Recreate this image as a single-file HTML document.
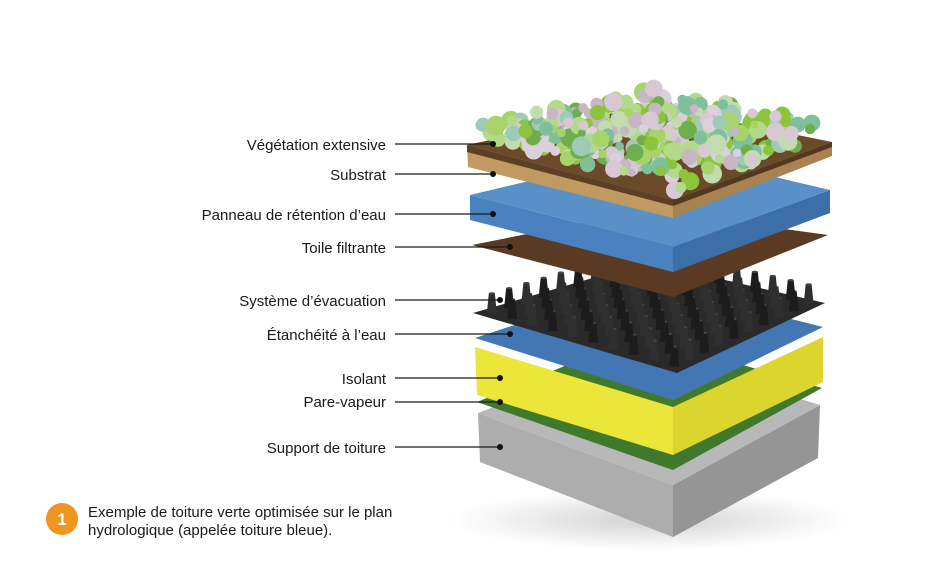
<!DOCTYPE html>
<html><head><meta charset="utf-8"><style>
body{margin:0;background:#fff;width:933px;height:557px;overflow:hidden;font-family:"Liberation Sans",Arial,sans-serif}
</style></head><body>
<svg id="s" width="933" height="557" viewBox="0 0 933 557" xmlns="http://www.w3.org/2000/svg">
<defs>
<radialGradient id="sh" cx="0.5" cy="0.5" r="0.5"><stop offset="0" stop-color="#000" stop-opacity="0.18"/><stop offset="1" stop-color="#000" stop-opacity="0"/></radialGradient>
</defs>
<ellipse cx="650" cy="520" rx="200" ry="30" fill="url(#sh)"/>
<polygon points="478,413 673,485 673,537 480,462" fill="#adadad"/>
<polygon points="673,485 820,405 818,458 673,537" fill="#959595"/>
<polygon points="478,413 640,350 820,405 673,485" fill="#b8b8b8"/>
<polygon points="477,402 640,335 822,388 673,470" fill="#3f7a2c"/>
<polygon points="475,347 673,407 673,455 477,395" fill="#ece63a"/>
<polygon points="673,407 823,337 823,382 673,455" fill="#dcd52e"/>
<polygon points="475,338 645,282 823,327 673,400" fill="#4277b4"/>
<polygon points="473,313 647,262 825,303 677,373" fill="#2a2a2a"/>
<g id="cones"></g>
<polygon points="472,245 647,210 828,235 673,297" fill="#5a3a22"/>
<polygon points="470,195 673,247 673,272 470,220" fill="#4a82c0"/>
<polygon points="673,247 830,190 830,213 673,272" fill="#3c6fa8"/>
<polygon points="470,195 660,150 830,190 673,247" fill="#5a90c8"/>
<polygon points="467,145 673,200 673,218 468,167" fill="#c09a60"/>
<polygon points="467,145 673,200 673,206 467,152" fill="#5e3f24"/>
<polygon points="673,200 832,142 832,156 673,218" fill="#a88250"/>
<polygon points="673,200 832,142 832,147 673,206" fill="#533820"/>
<polygon points="467,145 650,105 832,142 673,200" fill="#6b4a2a"/>
<g id="plants"></g>
<g font-size="15" fill="#1a1a1a" text-anchor="end">
<text x="386" y="150">Végétation extensive</text>
<text x="386" y="180">Substrat</text>
<text x="386" y="220">Panneau de rétention d’eau</text>
<text x="386" y="253">Toile filtrante</text>
<text x="386" y="306">Système d’évacuation</text>
<text x="386" y="340">Étanchéité à l’eau</text>
<text x="386" y="384">Isolant</text>
<text x="386" y="407">Pare-vapeur</text>
<text x="386" y="453">Support de toiture</text>
</g>
<g stroke="#1a1a1a" stroke-width="1.2">
<line x1="395" y1="144" x2="493" y2="144"/>
<line x1="395" y1="174" x2="493" y2="174"/>
<line x1="395" y1="214" x2="493" y2="214"/>
<line x1="395" y1="247" x2="510" y2="247"/>
<line x1="395" y1="300" x2="500" y2="300"/>
<line x1="395" y1="334" x2="510" y2="334"/>
<line x1="395" y1="378" x2="500" y2="378"/>
<line x1="395" y1="402" x2="500" y2="402"/>
<line x1="395" y1="447" x2="500" y2="447"/>
</g>
<g fill="#111">
<circle cx="493" cy="144" r="3"/><circle cx="493" cy="174" r="3"/><circle cx="493" cy="214" r="3"/>
<circle cx="510" cy="247" r="3"/><circle cx="500" cy="300" r="3"/><circle cx="510" cy="334" r="3"/>
<circle cx="500" cy="378" r="3"/><circle cx="500" cy="402" r="3"/><circle cx="500" cy="447" r="3"/>
</g>
<circle cx="62" cy="519" r="16" fill="#f0951f"/>
<text x="62" y="525" font-size="17" font-weight="bold" fill="#fff" text-anchor="middle">1</text>
<g font-size="15" fill="#1a1a1a">
<text x="88" y="517">Exemple de toiture verte optimisée sur le plan</text>
<text x="88" y="535">hydrologique (appelée toiture bleue).</text>
</g>
</svg>
<script>
var NS="http://www.w3.org/2000/svg";
function el(t,a,p){var e=document.createElementNS(NS,t);for(var k in a)e.setAttribute(k,a[k]);p.appendChild(e);return e;}
var g=document.getElementById("cones");
var L=[473,313],B=[647,262],R=[825,303],F=[677,373];
var n=10;
for(var i=0;i<n;i++)for(var j=0;j<n;j++){
 var u=(i+0.5)/n,v=(j+0.5)/n;
 var x=(1-u)*(1-v)*L[0]+u*(1-v)*B[0]+u*v*R[0]+(1-u)*v*F[0];
 var y=(1-u)*(1-v)*L[1]+u*(1-v)*B[1]+u*v*R[1]+(1-u)*v*F[1];
 el("path",{d:"M"+(x-5)+","+y+" L"+(x-3)+","+(y-20)+" L"+(x+3)+","+(y-20)+" L"+(x+5)+","+y+" Z",fill:(i+j)%2?"#1c1c1c":"#2f2f2f"},g);
 el("ellipse",{cx:x,cy:y-20,rx:3,ry:1.2,fill:"#444"},g);
}
var p=document.getElementById("plants");
var cols=["#8cc43c","#a7d46a","#c9b6c4","#9fcab8","#6fae4e","#d8c8d6","#7fbf9a","#b3d98a","#c2dcb0","#dcd0dc"];
var pL=[469,142],pB=[650,104],pR=[830,140],pF=[673,196];
var seed=7;function rnd(){seed=(seed*9301+49297)%233280;return seed/233280;}
for(var k=0;k<420;k++){
 var u=rnd(),v=rnd();
 var x=(1-u)*(1-v)*pL[0]+u*(1-v)*pB[0]+u*v*pR[0]+(1-u)*v*pF[0];
 var y=(1-u)*(1-v)*pL[1]+u*(1-v)*pB[1]+u*v*pR[1]+(1-u)*v*pF[1]-4-rnd()*14;
 el("circle",{cx:x,cy:y,r:4+rnd()*6,fill:cols[Math.floor(rnd()*cols.length)]},p);
}
</script>
</body></html>
